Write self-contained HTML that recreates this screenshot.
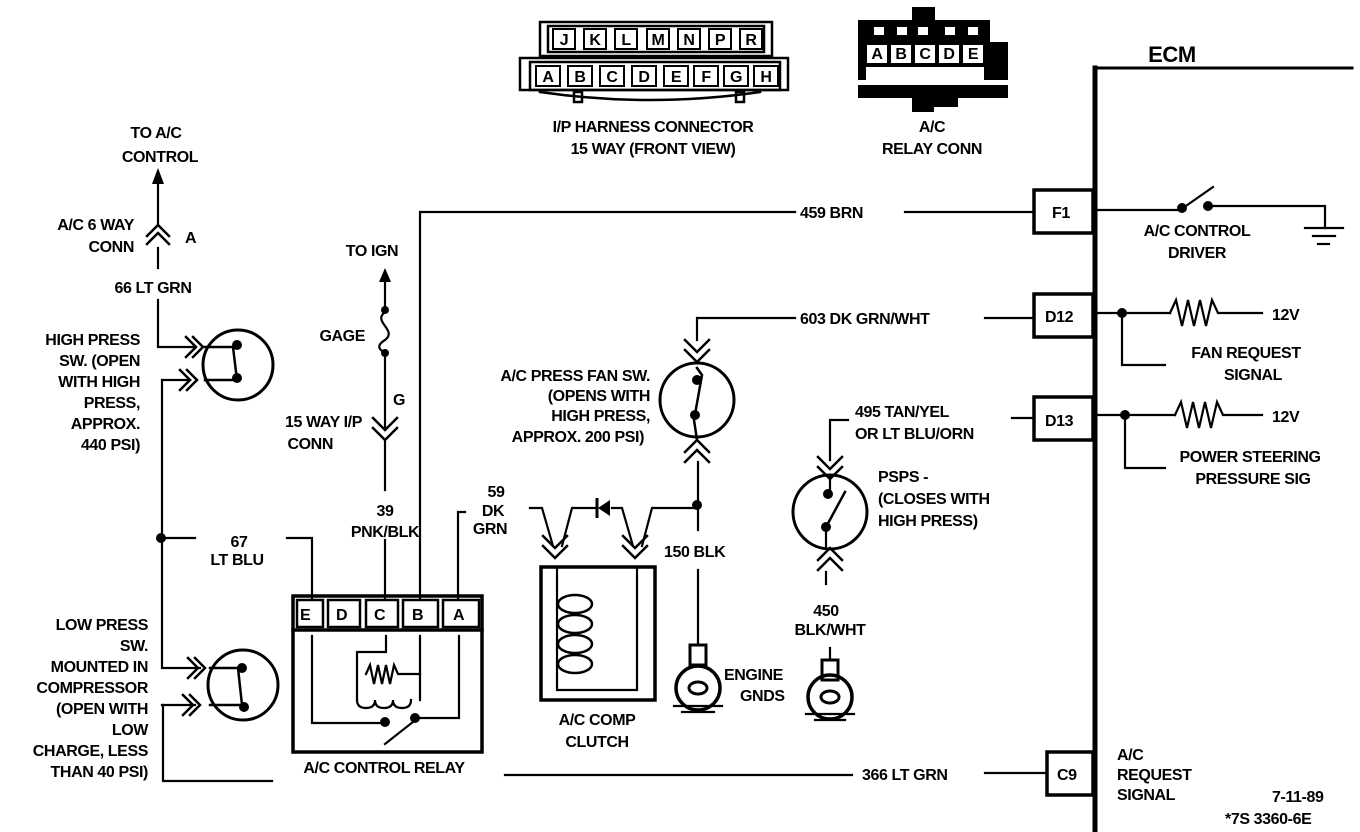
<!DOCTYPE html>
<html><head><style>
html,body{margin:0;padding:0;background:#fff;}
svg{display:block;}
text{font-family:"Liberation Sans",sans-serif;font-weight:bold;font-size:16px;fill:#000;letter-spacing:-0.4px;}
</style></head><body>
<svg width="1360" height="832" viewBox="0 0 1360 832" xmlns="http://www.w3.org/2000/svg">
<g stroke="#000" stroke-width="2.2" fill="none" stroke-linecap="square">
<line x1="1095" y1="68" x2="1095" y2="832" stroke-width="5"/>
<line x1="1095" y1="68" x2="1352" y2="68" stroke-width="3"/>
<rect x="1034" y="190" width="59" height="43" stroke-width="3.5"/>
<rect x="1034" y="294" width="59" height="43" stroke-width="3.5"/>
<rect x="1034" y="397" width="59" height="43" stroke-width="3.5"/>
<rect x="1047" y="752" width="46" height="43" stroke-width="3.5"/>
<polyline points="420,598 420,212 795,212"/>
<line x1="905" y1="212" x2="1034" y2="212"/>
<line x1="1095" y1="210" x2="1180" y2="210"/>
<line x1="1183" y1="208" x2="1213" y2="187"/>
<polyline points="1210,206 1325,206 1325,228"/>
<line x1="1305" y1="228" x2="1343" y2="228"/>
<line x1="1313" y1="236" x2="1335" y2="236"/>
<line x1="1318" y1="244" x2="1329" y2="244"/>
<polyline points="697,340 697,318 795,318"/>
<line x1="985" y1="318" x2="1034" y2="318"/>
<line x1="1095" y1="313" x2="1170" y2="313"/>
<polyline points="1122,313 1122,365 1165,365"/>
<polyline points="1170,313 1176,300 1182,326 1188,300 1194,326 1200,300 1206,326 1212,300 1218,313 1262,313"/>
<polyline points="830,460 830,420 848,420"/>
<line x1="1012" y1="418" x2="1034" y2="418"/>
<line x1="1095" y1="415" x2="1175" y2="415"/>
<polyline points="1125,415 1125,468 1165,468"/>
<polyline points="1175,415 1181,402 1187,428 1193,402 1199,428 1205,402 1211,428 1217,402 1223,415 1262,415"/>
<polyline points="163,705 163,781 272,781"/>
<line x1="505" y1="775" x2="852" y2="775"/>
<line x1="985" y1="773" x2="1047" y2="773"/>
<line x1="158" y1="182" x2="158" y2="225"/>
<line x1="158" y1="248" x2="158" y2="268"/>
<polyline points="158,300 158,347 195,347"/>
<polyline points="162,380 162,668 200,668"/>
<line x1="162" y1="380" x2="190" y2="380"/>
<polyline points="162,705 195,705"/>
<line x1="162" y1="538" x2="195" y2="538"/>
<polyline points="287,538 312,538 312,598"/>
<circle cx="238" cy="365" r="35" stroke-width="3"/>
<circle cx="243" cy="685" r="35" stroke-width="3"/>
<circle cx="697" cy="400" r="37" stroke-width="3"/>
<circle cx="830" cy="512" r="37" stroke-width="3"/>
<polyline points="205,347 233,347 237,380 205,380" stroke-width="2.5"/>
<polyline points="210,668 238,668 242,705 210,705" stroke-width="2.5"/>
<polyline points="697,368 702,375 694,420 697,440" stroke-width="2.5"/>
<polyline points="830,475 830,495"/>
<line x1="826" y1="527" x2="845" y2="492" stroke-width="2.5"/>
<line x1="826" y1="527" x2="826" y2="548"/>
<g stroke-width="2.5">
<polyline points="186,337 196,347 186,357"/><polyline points="193,337 203,347 193,357"/>
<polyline points="180,370 190,380 180,390"/><polyline points="187,370 197,380 187,390"/>
<polyline points="188,658 198,668 188,678"/><polyline points="195,658 205,668 195,678"/>
<polyline points="183,695 193,705 183,715"/><polyline points="190,695 200,705 190,715"/>
<polyline points="147,236 158,225 169,236"/><polyline points="147,244 158,233 169,244"/>
<polyline points="373,418 385,430 397,418"/><polyline points="373,428 385,440 397,428"/>
<polyline points="685,340 697,352 709,340"/><polyline points="685,350 697,362 709,350"/>
<polyline points="685,452 697,440 709,452"/><polyline points="685,462 697,450 709,462"/>
<polyline points="818,457 830,469 842,457"/><polyline points="818,467 830,479 842,467"/>
<polyline points="818,560 830,548 842,560"/><polyline points="818,570 830,558 842,570"/>
<polyline points="543,536 555,548 567,536"/><polyline points="543,546 555,558 567,546"/>
<polyline points="623,536 635,548 647,536"/><polyline points="623,546 635,558 647,546"/>
</g>
<line x1="385" y1="280" x2="385" y2="310"/>
<path d="M385,312 C372,322 398,330 385,340 C375,346 380,350 385,353"/>
<line x1="385" y1="353" x2="385" y2="428"/>
<line x1="385" y1="440" x2="385" y2="490"/>
<line x1="385" y1="540" x2="385" y2="598"/>
<polyline points="458,598 458,512 465,512"/>
<rect x="293" y="596" width="189" height="156" stroke-width="3.5"/>
<line x1="293" y1="630" x2="482" y2="630" stroke-width="3.5"/>
<g stroke-width="2.5">
<rect x="297" y="600" width="26" height="27"/><rect x="328" y="600" width="32" height="27"/>
<rect x="366" y="600" width="32" height="27"/><rect x="403" y="600" width="35" height="27"/>
<rect x="443" y="600" width="36" height="27"/>
</g>
<polyline points="312,636 312,723 383,723"/>
<line x1="385" y1="744" x2="418" y2="718"/>
<polyline points="418,718 459,718 459,636"/>
<polyline points="386,636 386,652 357,652 357,700"/>
<polyline points="420,636 420,700"/>
<polyline points="366,674 370,665 374,684 378,665 382,684 386,665 390,684 394,665 398,674 420,674"/>
<path d="M357,700 q0,8 9,8 q9,0 9,-8 q0,8 9,8 q9,0 9,-8 q0,8 9,8 q9,0 9,-8"/>
<rect x="541" y="567" width="114" height="133" stroke-width="3.5"/>
<polyline points="557,567 557,690 637,690 637,567"/>
<g stroke-width="2.5">
<ellipse cx="575" cy="604" rx="17" ry="9"/><ellipse cx="575" cy="624" rx="17" ry="9"/>
<ellipse cx="575" cy="644" rx="17" ry="9"/><ellipse cx="575" cy="664" rx="17" ry="9"/>
</g>
<polyline points="530,508 542,508 553,546"/>
<polyline points="562,546 572,508 597,508"/>
<polyline points="612,508 622,508 633,546"/>
<polyline points="642,546 652,508 697,508"/>
<line x1="698" y1="462" x2="698" y2="530"/>
<line x1="698" y1="570" x2="698" y2="645"/>
<rect x="690" y="645" width="16" height="20" stroke-width="3"/>
<circle cx="698" cy="688" r="22" stroke-width="3.5"/>
<ellipse cx="698" cy="688" rx="9" ry="6" stroke-width="3"/>
<line x1="674" y1="706" x2="722" y2="706"/>
<line x1="682" y1="712" x2="714" y2="712"/>
<line x1="826" y1="572" x2="826" y2="584"/>
<line x1="830" y1="648" x2="830" y2="660"/>
<rect x="822" y="660" width="16" height="20" stroke-width="3"/>
<circle cx="830" cy="697" r="22" stroke-width="3.5"/>
<ellipse cx="830" cy="697" rx="9" ry="6" stroke-width="3"/>
<line x1="806" y1="714" x2="854" y2="714"/>
<line x1="815" y1="720" x2="845" y2="720"/>
<g stroke-width="2.5">
<rect x="540" y="22" width="232" height="34"/>
<rect x="548" y="26" width="216" height="26"/>
<rect x="520" y="58" width="268" height="32"/>
<rect x="530" y="62" width="250" height="28"/>
<path d="M540,92 Q650,108 760,92"/>
<rect x="574" y="92" width="8" height="10"/><rect x="736" y="92" width="8" height="10"/>
</g>
<g stroke-width="2">
<rect x="553" y="29" width="22" height="20"/><rect x="584" y="29" width="22" height="20"/>
<rect x="615" y="29" width="22" height="20"/><rect x="647" y="29" width="22" height="20"/>
<rect x="678" y="29" width="22" height="20"/><rect x="709" y="29" width="22" height="20"/>
<rect x="740" y="29" width="22" height="20"/>
<rect x="536" y="66" width="24" height="20"/><rect x="568" y="66" width="24" height="20"/>
<rect x="600" y="66" width="24" height="20"/><rect x="632" y="66" width="24" height="20"/>
<rect x="664" y="66" width="24" height="20"/><rect x="694" y="66" width="24" height="20"/>
<rect x="724" y="66" width="24" height="20"/><rect x="754" y="66" width="24" height="20"/>
</g>
</g>
<g fill="#000">
<path d="M858,20 L912,20 L912,7 L935,7 L935,20 L990,20 L990,42 L1008,42 L1008,98 L958,98 L958,107 L912,107 L912,98 L858,98 Z"/>
<rect x="912" y="98" width="22" height="14"/>
</g>
<g fill="#fff">
<rect x="874" y="27" width="10" height="8"/><rect x="897" y="27" width="10" height="8"/><rect x="918" y="27" width="10" height="8"/><rect x="945" y="27" width="10" height="8"/><rect x="968" y="27" width="10" height="8"/>
<rect x="867" y="45" width="20" height="18"/><rect x="891" y="45" width="20" height="18"/><rect x="915" y="45" width="20" height="18"/><rect x="939" y="45" width="20" height="18"/><rect x="963" y="45" width="20" height="18"/>
<rect x="866" y="67" width="118" height="14"/>
</g>
<rect x="858" y="80" width="150" height="5" fill="#fff"/>
<g fill="#000">
<circle cx="237" cy="345" r="5"/><circle cx="237" cy="378" r="5"/>
<circle cx="242" cy="668" r="5"/><circle cx="244" cy="707" r="5"/>
<circle cx="161" cy="538" r="5"/>
<circle cx="385" cy="310" r="4"/><circle cx="385" cy="353" r="4"/>
<circle cx="385" cy="722" r="5"/><circle cx="415" cy="718" r="5"/>
<circle cx="697" cy="380" r="5"/><circle cx="695" cy="415" r="5"/>
<circle cx="828" cy="494" r="5"/><circle cx="826" cy="527" r="5"/>
<circle cx="697" cy="505" r="5"/>
<circle cx="1182" cy="208" r="5"/><circle cx="1208" cy="206" r="5"/>
<circle cx="1122" cy="313" r="5"/><circle cx="1125" cy="415" r="5"/>
<polygon points="158,168 152,184 164,184"/>
<polygon points="385,268 379,282 391,282"/>
<polygon points="598,508 610,500 610,516"/>
</g>
<line x1="597" y1="498" x2="597" y2="518" stroke="#000" stroke-width="3"/>
<g text-anchor="middle" style="font-size:13px">
<text x="564" y="45">J</text><text x="595" y="45">K</text><text x="626" y="45">L</text>
<text x="658" y="45">M</text><text x="689" y="45">N</text><text x="720" y="45">P</text><text x="751" y="45">R</text>
<text x="548" y="82">A</text><text x="580" y="82">B</text><text x="612" y="82">C</text><text x="644" y="82">D</text>
<text x="676" y="82">E</text><text x="706" y="82">F</text><text x="736" y="82">G</text><text x="766" y="82">H</text>
</g>
<g text-anchor="middle" style="font-size:11px">
<text x="877" y="59">A</text><text x="901" y="59">B</text><text x="925" y="59">C</text><text x="949" y="59">D</text><text x="973" y="59">E</text>
</g>
<g text-anchor="middle">
<text x="653" y="132">I/P HARNESS CONNECTOR</text>
<text x="653" y="154">15 WAY (FRONT VIEW)</text>
<text x="932" y="132">A/C</text>
<text x="932" y="154">RELAY CONN</text>
<text x="1172" y="62" style="font-size:22px">ECM</text>
<text x="156" y="138">TO A/C</text>
<text x="160" y="162">CONTROL</text>
<text x="153" y="293">66 LT GRN</text>
<text x="372" y="256">TO IGN</text>
<text x="385" y="516">39</text>
<text x="385" y="537">PNK/BLK</text>
<text x="239" y="547">67</text>
<text x="237" y="565">LT BLU</text>
<text x="496" y="497">59</text>
<text x="493" y="516">DK</text>
<text x="490" y="534">GRN</text>
<text x="597" y="725">A/C COMP</text>
<text x="597" y="747">CLUTCH</text>
<text x="384" y="773">A/C CONTROL RELAY</text>
<text x="826" y="616">450</text>
<text x="830" y="635">BLK/WHT</text>
<text x="1197" y="236">A/C CONTROL</text>
<text x="1197" y="258">DRIVER</text>
<text x="1246" y="358">FAN  REQUEST</text>
<text x="1253" y="380">SIGNAL</text>
<text x="1250" y="462">POWER STEERING</text>
<text x="1253" y="484">PRESSURE SIG</text>
</g>
<g text-anchor="end">
<text x="134" y="230">A/C 6 WAY</text>
<text x="134" y="252">CONN</text>
<text x="365" y="341">GAGE</text>
<text x="362" y="427">15 WAY I/P</text>
<text x="333" y="449">CONN</text>
<text x="140" y="345">HIGH PRESS</text>
<text x="140" y="366">SW. (OPEN</text>
<text x="140" y="387">WITH HIGH</text>
<text x="140" y="408">PRESS,</text>
<text x="140" y="429">APPROX.</text>
<text x="140" y="450">440 PSI)</text>
<text x="148" y="630">LOW PRESS</text>
<text x="148" y="651">SW.</text>
<text x="148" y="672">MOUNTED IN</text>
<text x="148" y="693">COMPRESSOR</text>
<text x="148" y="714">(OPEN WITH</text>
<text x="148" y="735">LOW</text>
<text x="148" y="756">CHARGE, LESS</text>
<text x="148" y="777">THAN 40 PSI)</text>
<text x="650" y="381">A/C PRESS FAN SW.</text>
<text x="650" y="401">(OPENS WITH</text>
<text x="650" y="421">HIGH PRESS,</text>
<text x="644" y="442">APPROX. 200 PSI)</text>
</g>
<text x="185" y="243">A</text>
<text x="393" y="405">G</text>
<text x="800" y="218">459 BRN</text>
<text x="800" y="324">603 DK GRN/WHT</text>
<text x="855" y="417">495 TAN/YEL</text>
<text x="855" y="439">OR LT BLU/ORN</text>
<text x="664" y="557">150 BLK</text>
<text x="878" y="482">PSPS -</text>
<text x="878" y="504">(CLOSES WITH</text>
<text x="878" y="526">HIGH PRESS)</text>
<text x="724" y="680">ENGINE</text>
<text x="740" y="701">GNDS</text>
<text x="862" y="780">366 LT GRN</text>
<text x="1052" y="218">F1</text>
<text x="1045" y="322">D12</text>
<text x="1045" y="426">D13</text>
<text x="1057" y="780">C9</text>
<text x="1272" y="320">12V</text>
<text x="1272" y="422">12V</text>
<text x="300" y="620">E</text><text x="336" y="620">D</text><text x="374" y="620">C</text><text x="412" y="620">B</text><text x="453" y="620">A</text>
<text x="1117" y="760">A/C</text>
<text x="1117" y="780">REQUEST</text>
<text x="1117" y="800">SIGNAL</text>
<text x="1272" y="802">7-11-89</text>
<text x="1225" y="824">*7S 3360-6E</text>
</svg>
</body></html>
